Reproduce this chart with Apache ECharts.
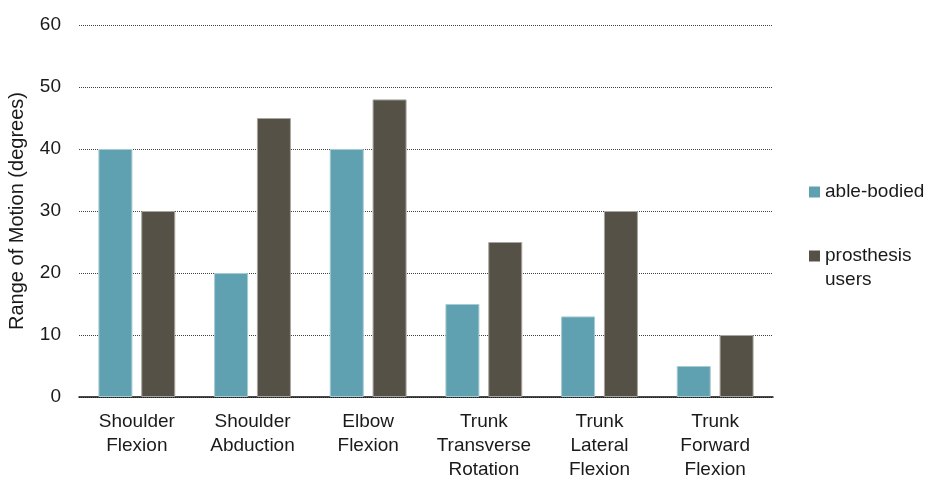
<!DOCTYPE html>
<html>
<head>
<meta charset="utf-8">
<title>Range of Motion</title>
<script src="https://cdn.jsdelivr.net/npm/echarts@6/dist/echarts.min.js"></script>
<style>
  html, body { margin: 0; padding: 0; background: #ffffff; }
  #chart { width: 931px; height: 477px; }
</style>
</head>
<body>
<div id="chart"></div>
<script>
// Movement categories (multi-line labels)
const categories = [
  'Shoulder\nFlexion',
  'Shoulder\nAbduction',
  'Elbow\nFlexion',
  'Trunk\nTransverse\nRotation',
  'Trunk\nLateral\nFlexion',
  'Trunk\nForward\nFlexion'
];

// Range of motion in degrees
const ableBodied = [40, 20, 40, 15, 13, 5];
const prosthesisUsers = [30, 45, 48, 25, 30, 10];

const seriesNames = ['able-bodied', 'prosthesis users'];

const FONT = '"Liberation Sans", Arial, sans-serif';
const TEXT = '#1a1a1a';

const chart = echarts.init(document.getElementById('chart'), null, { renderer: 'canvas' });

const legendText = { fontFamily: FONT, fontSize: 19, color: TEXT, lineHeight: 24 };

chart.setOption({
  animation: false,
  backgroundColor: '#ffffff',
  textStyle: { fontFamily: FONT, color: TEXT },
  grid: { left: 79, right: 158, top: 25, bottom: 80, containLabel: false, outerBoundsMode: 'none' },
  legend: [
    {
      data: [seriesNames[0]],
      orient: 'vertical',
      left: 804,
      top: 175,
      icon: 'rect',
      itemWidth: 11,
      itemHeight: 11,
      itemStyle: { borderWidth: 0 },
      textStyle: legendText
    },
    {
      data: [seriesNames[1]],
      orient: 'vertical',
      left: 804,
      top: 215,
      icon: 'rect',
      itemWidth: 11,
      itemHeight: 11,
      itemStyle: { borderWidth: 0 },
      // first line sits level with the swatch, the second wraps below it
      formatter: function (name) { return '\u00a0\n' + name.replace(' ', '\n'); },
      textStyle: legendText
    }
  ],
  xAxis: {
    type: 'category',
    data: categories,
    axisLine: { show: true, lineStyle: { color: '#111111', width: 1.5 } },
    axisTick: { show: false },
    axisLabel: {
      interval: 0,
      margin: 13,
      fontFamily: FONT,
      fontSize: 19,
      lineHeight: 24,
      color: TEXT
    }
  },
  yAxis: {
    type: 'value',
    min: 0,
    max: 60,
    interval: 10,
    name: 'Range of Motion (degrees)',
    nameLocation: 'middle',
    nameGap: 52,
    nameRotate: 90,
    nameTextStyle: { fontFamily: FONT, fontSize: 20, color: TEXT },
    axisLine: { show: false },
    axisTick: { show: false },
    axisLabel: { margin: 18, fontFamily: FONT, fontSize: 19, color: TEXT },
    splitLine: { show: true, lineStyle: { color: '#444444', width: 1, type: [1, 1] } }
  },
  series: [
    {
      name: seriesNames[0],
      type: 'bar',
      data: ableBodied,
      barWidth: 34,
      barGap: '26%',
      itemStyle: { color: '#5fa1b0', borderColor: '#a6cbd4', borderWidth: 1 }
    },
    {
      name: seriesNames[1],
      type: 'bar',
      data: prosthesisUsers,
      barWidth: 34,
      barGap: '26%',
      itemStyle: { color: '#555146', borderColor: '#a8a59d', borderWidth: 1 }
    }
  ]
});
</script>
</body>
</html>
